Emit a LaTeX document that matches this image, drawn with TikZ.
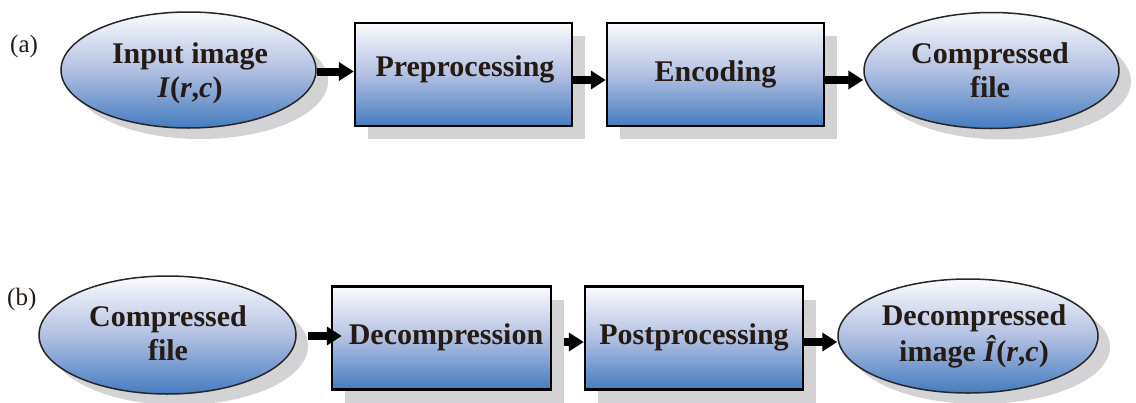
\documentclass[tikz,border=0pt]{standalone}
\usepackage{fontspec}
\setmainfont{Liberation Serif}
\usetikzlibrary{shapes.geometric,arrows.meta,shadows}
\definecolor{shgray}{RGB}{211,211,214}
\definecolor{topblue}{RGB}{250,251,253}
\definecolor{midblue}{RGB}{178,192,226}
\definecolor{botblue}{RGB}{68,124,192}
\definecolor{ink}{RGB}{38,26,20}
\begin{document}
\begin{tikzpicture}[x=1pt,y=-1pt,
  grad/.style={top color=topblue, bottom color=botblue, middle color=midblue},
  stagebox/.style={rectangle, draw=black, line width=2.4pt, grad,
    minimum width=217pt, minimum height=103pt, inner sep=0pt,
    drop shadow={shadow xshift=13pt, shadow yshift=-13pt, fill=shgray, opacity=1}},
  terminal/.style={ellipse, draw=black!85, line width=1.5pt, grad, inner sep=0pt,
    drop shadow={shadow xshift=12pt, shadow yshift=-11pt, fill=shgray, opacity=1}},
  flow/.style={line width=8pt, -{Triangle[length=15pt,width=18pt]}, black},
  lbl/.style={font=\fontsize{30}{34}\selectfont\bfseries, text=ink, inner sep=0pt, anchor=base},
  tag/.style={font=\fontsize{25}{30}\selectfont, text=ink, inner sep=0pt, anchor=base west}
]
\useasboundingbox (0,0) rectangle (1136,402);

% ---- (a) compression ----
\node[tag] (taga) at (10,52) {(a)};
\node[terminal, minimum width=255pt, minimum height=116pt] (inimg) at (188.5,70) {};
\node[stagebox] (pre) at (463.5,74.5) {};
\node[stagebox] (enc) at (715.5,74.5) {};
\node[terminal, minimum width=255pt, minimum height=116pt] (cfa) at (991.5,70.5) {};

\node[lbl] (tinimg) at (190,63) {\begin{tabular}[t]{@{}c@{}}Input image\\ \textit{I}(\textit{r},\textit{c})\end{tabular}};
\node[lbl] (tpre) at (465,76) {Preprocessing};
\node[lbl] (tenc) at (715.5,81) {Encoding};
\node[lbl] (tcfa) at (990,63) {\begin{tabular}[t]{@{}c@{}}Compressed\\ file\end{tabular}};

\draw[flow] ([yshift=-1.5pt]inimg.east) -- ([yshift=-1.5pt]inimg.east -| pre.west);
\draw[flow] ([yshift=-5.5pt]pre.east) -- ([yshift=-5.5pt]enc.west);
\draw[flow] ([yshift=-5.5pt]enc.east) -- ([yshift=-5.5pt]enc.east -| cfa.west);

% ---- (b) decompression ----
\node[tag] (tagb) at (7,305) {(b)};
\node[terminal, minimum width=257pt, minimum height=118pt] (cfb) at (167.5,335) {};
\node[stagebox, minimum width=219pt] (dec) at (441.5,338) {};
\node[stagebox, minimum width=218pt] (post) at (694,338) {};
\node[terminal, minimum width=260pt, minimum height=114pt] (outimg) at (968,336) {};

\node[lbl] (tcfb) at (168,326) {\begin{tabular}[t]{@{}c@{}}Compressed\\ file\end{tabular}};
\node[lbl] (tdec) at (446,344) {Decompression};
\node[lbl] (tpost) at (694,344) {Postprocessing};
\node[lbl] (toutimg) at (974,325) {\begin{tabular}[t]{@{}c@{}}Decompressed\\ image \textit{Î}(\textit{r},\textit{c})\end{tabular}};

\draw[flow] ([xshift=11pt,yshift=-1pt]cfb.east) -- ([xshift=11pt,yshift=-1pt]cfb.east -| dec.west);
\draw[flow] ([xshift=12pt,yshift=-4pt]dec.east) -- ([yshift=-4pt]post.west);
\draw[flow] ([yshift=-4pt]post.east) -- ([yshift=-4pt]post.east -| outimg.west);
\end{tikzpicture}
\end{document}
